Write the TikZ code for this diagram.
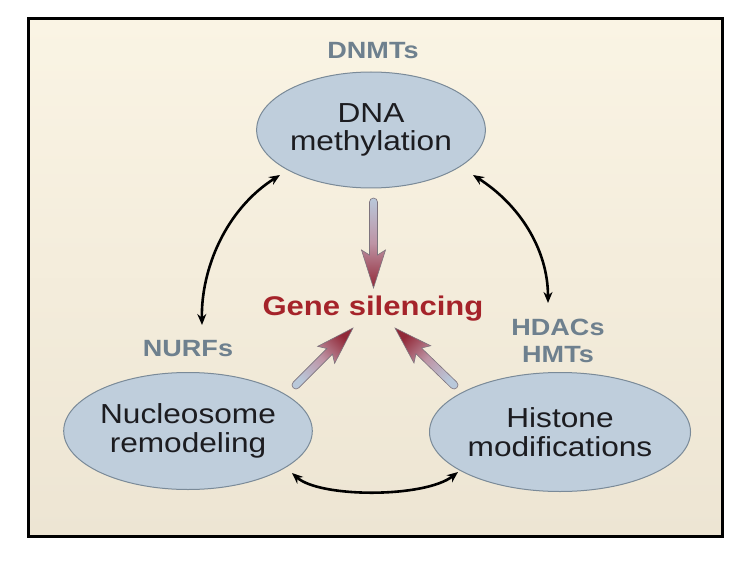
\documentclass[tikz,border=0pt]{standalone}
\usepackage{fontspec}
\newfontfamily\wf[FakeStretch=1.15]{Liberation Sans}
\usetikzlibrary{arrows.meta,calc,shapes.geometric}
\definecolor{bgtop}{RGB}{250,244,228}
\definecolor{bgbot}{RGB}{237,229,211}
\definecolor{ellfill}{RGB}{191,206,220}
\definecolor{ellborder}{RGB}{122,138,152}
\definecolor{elltext}{RGB}{28,28,32}
\definecolor{labcol}{RGB}{110,128,142}
\definecolor{genecol}{RGB}{165,35,42}
\definecolor{fatred}{RGB}{145,40,55}
\definecolor{fatmid}{RGB}{190,148,165}
\definecolor{fatblue}{RGB}{185,200,218}
\definecolor{fatedge}{RGB}{125,115,125}
\tikzset{
  bub/.style={ellipse, draw=ellborder, line width=1pt, fill=ellfill, inner sep=0pt,
    align=center, text=elltext, font=\wf\fontsize{27.5}{28.5}\selectfont},
  lab/.style={text=labcol, font=\wf\bfseries\fontsize{23.5}{27}\selectfont, align=center, inner sep=0pt},
  gene/.style={text=genecol, font=\wf\bfseries\fontsize{27}{30}\selectfont, inner sep=0pt},
  link/.style={line width=2.6pt, {Stealth[length=11pt,width=9pt]}-{Stealth[length=11pt,width=9pt]}},
  fat/.style={draw=fatedge, line width=0.6pt, top color=fatred, bottom color=fatblue, middle color=fatmid},
  frame/.style={draw=black, line width=3pt, top color=bgtop, bottom color=bgbot}
}
\newcommand\fatarrow[3]{%
  \coordinate (#1-j) at ($(#2)!33pt!(#1)$);
  \coordinate (#1-b) at ($(#2)!38pt!(#1)$);
  \path[fat, shading angle=#3] let \p1=($(#2)-(#1)$), \n1={atan2(\y1,\x1)} in
    ($(#1)!4pt!90:(#2)$) -- ($(#1-j)!4pt!90:(#2)$) -- ($(#1-b)!12pt!90:(#2)$) -- (#2)
    -- ($(#1-b)!12pt!-90:(#2)$) -- ($(#1-j)!4pt!-90:(#2)$) -- ($(#1)!4pt!-90:(#2)$)
    arc[start angle=\n1-90, end angle=\n1-270, radius=4pt] -- cycle;
}
\begin{document}
\begin{tikzpicture}[x=1pt,y=-1pt]
  \fill[white] (0,0) rectangle (741,561);
  \useasboundingbox (0,0) rectangle (741,561);
  \path[frame] (28,19) rectangle (722,536);

  \node[bub, minimum width=227pt, minimum height=116pt] (dna) at (371,130) {DNA\\methylation};
  \node[bub, minimum width=233pt, minimum height=117pt] (nuc) at (188,431) {Nucleosome\\remodeling};
  \node[bub, minimum width=234pt, minimum height=119pt] (his) at (560,432) {Histone\\modifications};

  \node[lab] (dnmt) at (373,51) {DNMTs};
  \node[lab] (nurf) at (188,349) {NURFs};
  \node[lab] (hdac) at (558,341) {HDACs\\HMTs};
  \node[gene] (gs) at (373,309) {Gene silencing};

  % fat gradient arrows
  \coordinate (vt) at (373.5,202);
  \coordinate (vp) at (373.5,288);
  \coordinate (lt) at (296,385);
  \coordinate (lp) at (353,328);
  \coordinate (rt) at (454,385);
  \coordinate (rp) at (395,328);
  \fatarrow{vt}{vp}{-180}
  \fatarrow{lt}{lp}{-45}
  \fatarrow{rt}{rp}{45}

  % black double arrows
  \coordinate (l1a) at (202,325);
  \coordinate (l1b) at (280,175);
  \coordinate (r1a) at (473,175);
  \coordinate (r1b) at (548,303);
  \coordinate (b1a) at (292,473);
  \coordinate (b1b) at (458,472);
  \draw[link] (l1a) .. controls (201,270) and (225,210) .. (l1b);
  \draw[link] (r1a) .. controls (520,205) and (548,250) .. (r1b);
  \draw[link] (b1a) .. controls (320,498) and (425,498) .. (b1b);
\end{tikzpicture}
\end{document}
